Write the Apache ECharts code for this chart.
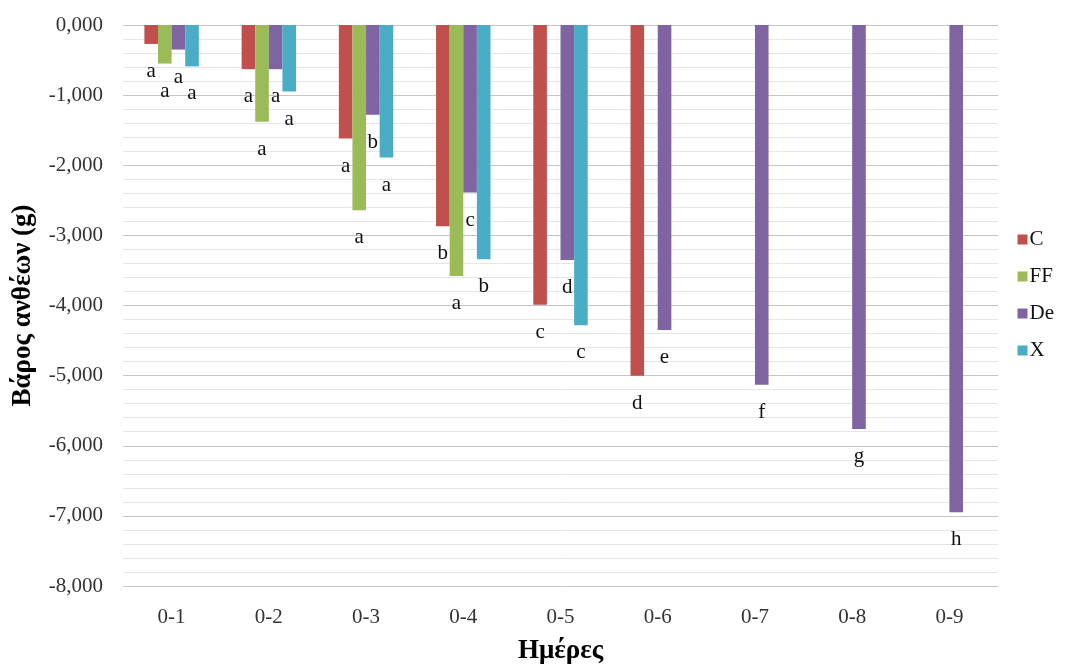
<!DOCTYPE html>
<html>
<head>
<meta charset="utf-8">
<script src="https://cdn.jsdelivr.net/npm/echarts@6/dist/echarts.min.js"></script>
<style>html,body{margin:0;padding:0;background:#fff}#chart{width:1067px;height:666px}</style>
</head>
<body>
<div id="chart"></div>
<script>
const categories = ['0-1','0-2','0-3','0-4','0-5','0-6','0-7','0-8','0-9'];
const seriesNames = ['C','FF','De','X'];
const valuesC  = [-0.27, -0.63, -1.62, -2.87, -3.99, -5.00, null, null, null];
const valuesFF = [-0.55, -1.38, -2.64, -3.58, null, null, null, null, null];
const valuesDe = [-0.35, -0.63, -1.28, -2.39, -3.35, -4.35, -5.13, -5.76, -6.95];
const valuesX  = [-0.59, -0.95, -1.89, -3.34, -4.28, null, null, null, null];
const lettersC  = ['a','a','a','b','c','d','','',''];
const lettersFF = ['a','a','a','a','','','','',''];
const lettersDe = ['a','a','b','c','d','e','f','g','h'];
const lettersX  = ['a','a','a','b','c','','','',''];
const colors = ['#c0504d','#9bbb59','#8064a2','#4bacc6'];

const FONT = '"Liberation Serif", "Times New Roman", serif';
const allValues = [valuesC, valuesFF, valuesDe, valuesX];
const allLetters = [lettersC, lettersFF, lettersDe, lettersX];

const chart = echarts.init(document.getElementById('chart'), null, {renderer:'canvas'});
chart.setOption({
  animation: false,
  backgroundColor: '#fff',
  color: colors,
  grid: {left: 123, right: 69, top: 25, bottom: 80, containLabel: false, outerBoundsMode: 'none'},
  legend: {
    orient: 'vertical', right: 8, top: 224,
    itemWidth: 10, itemHeight: 10, itemGap: 16,
    icon: 'rect',
    textStyle: {fontFamily: FONT, fontSize: 21, color: '#111', padding:[0,0,0,-3]},
    data: seriesNames
  },
  xAxis: {
    type: 'category', data: categories, position: 'bottom',
    axisLine: {onZero: false, show: false},
    axisTick: {show: false},
    axisLabel: {fontFamily: FONT, fontSize: 21, color: '#333', margin: 21},
    name: 'Ημέρες', nameLocation: 'middle', nameGap: 52,
    nameTextStyle: {fontFamily: FONT, fontSize: 27, fontWeight: 'bold', color: '#000'}
  },
  yAxis: {
    type: 'value', min: -8, max: 0, interval: 1,
    axisLine: {show: false}, axisTick: {show: false},
    axisLabel: {fontFamily: FONT, fontSize: 21, color: '#333', margin: 20,
      formatter: v => v.toFixed(3).replace('.', ',')},
    splitLine: {lineStyle: {color: '#c6c6c6', width: 1}},
    minorTick: {show: false, splitNumber: 5},
    minorSplitLine: {show: true, lineStyle: {color: '#e6e6e6', width: 1}},
    name: 'Βάρος ανθέων (g)', nameLocation: 'middle', nameGap: 86, nameRotate: 90,
    nameTextStyle: {fontFamily: FONT, fontSize: 27, fontWeight: 'bold', color: '#000'}
  },
  series: seriesNames.map((n, i) => ({
    name: n, type: 'bar', barGap: '0%', barCategoryGap: '44%',
    data: allValues[i],
    label: {
      show: true, position: 'bottom', distance: 17,
      fontFamily: FONT, fontSize: 21, color: '#111',
      formatter: p => allLetters[i][p.dataIndex]
    }
  }))
});
</script>
</body>
</html>
